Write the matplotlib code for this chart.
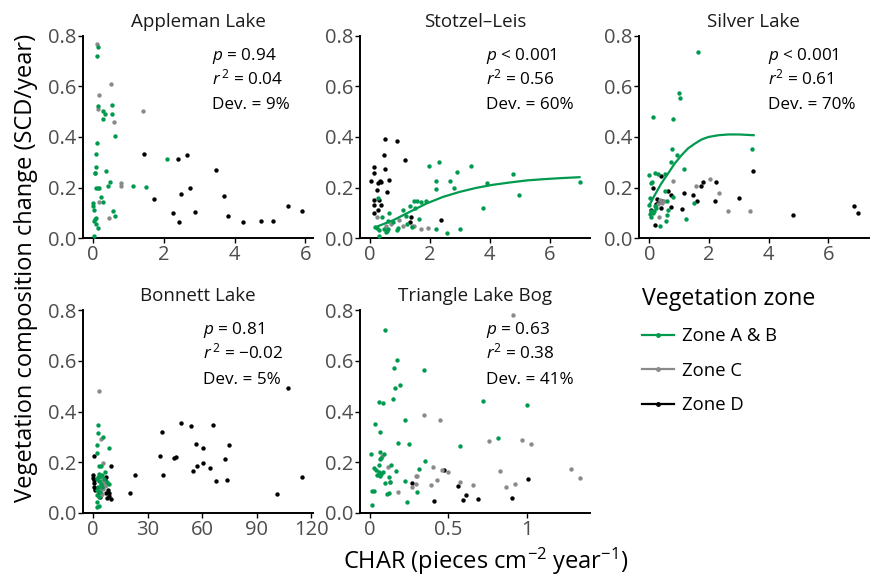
import matplotlib
matplotlib.use('Agg')
import matplotlib.pyplot as plt
from matplotlib.lines import Line2D

# ── Style ──
plt.rcParams['font.family'] = ['Open Sans', 'DejaVu Sans']
plt.rcParams['mathtext.fontset'] = 'custom'
plt.rcParams['mathtext.rm'] = 'Open Sans'
plt.rcParams['mathtext.it'] = 'Open Sans:italic'
plt.rcParams['mathtext.bf'] = 'Open Sans:bold'

GREEN = "#009a4e"
GREY = "#8a8a8a"
BLACK = "#000000"
TICK_GREY = "#4d4d4d"

# ── Appleman Lake ──
app_ab_x = [0.14, 0.10, 0.15, 0.27, 0.34, 0.53, 0.52, 0.28, 0.62, 0.12,
            0.07, 2.09, 0.08, 0.04, 0.05, 0.36, 0.47, 0.43, 0.07, 0.13,
            0.18, 1.12, 1.50, 0.22, 0.28, 0.01, 0.01, 0.03, 0.56, 0.61,
            0.02, 0.06, 0.09, 0.08, 0.14, 0.03]
app_ab_y = [0.754, 0.722, 0.523, 0.502, 0.489, 0.526, 0.489, 0.472, 0.403, 0.377,
            0.332, 0.312, 0.282, 0.256, 0.259, 0.264, 0.223, 0.208, 0.200, 0.200,
            0.200, 0.206, 0.202, 0.162, 0.142, 0.140, 0.127, 0.113, 0.109, 0.088,
            0.068, 0.075, 0.078, 0.055, 0.042, 0.008]
app_c_x = [0.10, 0.51, 0.16, 0.13, 1.41, 0.60, 0.78, 0.79, 0.16, 0.45]
app_c_y = [0.767, 0.609, 0.565, 0.510, 0.501, 0.459, 0.219, 0.208, 0.144, 0.079]
app_d_x = [1.44, 1.72, 2.39, 2.66, 2.27, 2.49, 2.74, 2.42, 2.87, 3.47,
           3.70, 3.82, 4.23, 4.74, 5.08, 5.51, 5.92]
app_d_y = [0.334, 0.153, 0.312, 0.328, 0.098, 0.173, 0.200, 0.062, 0.104, 0.269,
           0.167, 0.087, 0.063, 0.067, 0.067, 0.127, 0.107]

# ── Stotzel-Leis ──
sto_ab_x = [0.28, 0.64, 0.41, 0.17, 0.23, 0.31, 0.48, 0.61, 0.58, 0.76,
            0.29, 1.10, 0.89, 0.94, 1.21, 1.24, 0.59, 0.54, 1.42, 1.47,
            1.58, 1.71, 1.88, 1.52, 1.64, 1.97, 2.31, 3.37, 2.91, 4.77,
            2.20, 2.67, 3.91, 7.00, 2.22, 2.80, 4.98, 3.77, 2.22, 2.56,
            3.02, 1.33]
sto_ab_y = [0.158, 0.099, 0.082, 0.043, 0.042, 0.033, 0.036, 0.036, 0.028, 0.063,
            0.009, 0.113, 0.032, 0.042, 0.087, 0.055, 0.068, 0.026, 0.045, 0.145,
            0.145, 0.141, 0.145, 0.121, 0.075, 0.284, 0.302, 0.286, 0.260, 0.252,
            0.227, 0.227, 0.220, 0.223, 0.196, 0.200, 0.169, 0.120, 0.038, 0.019,
            0.038, 0.127]
sto_c_x = [0.22, 0.53, 0.98, 1.11, 1.39, 1.47, 1.72, 1.94, 0.70]
sto_c_y = [0.082, 0.047, 0.071, 0.047, 0.047, 0.049, 0.037, 0.040, 0.055]
sto_d_x = [0.50, 0.91, 1.18, 0.48, 0.13, 0.13, 0.49, 0.02, 0.28, 0.33,
           0.38, 0.64, 0.23, 0.57, 0.14, 0.29, 0.36, 0.14, 0.14, 0.27,
           1.38, 1.33, 2.36]
sto_d_y = [0.394, 0.384, 0.308, 0.329, 0.283, 0.257, 0.272, 0.224, 0.218, 0.226,
           0.222, 0.229, 0.190, 0.182, 0.149, 0.149, 0.133, 0.132, 0.100, 0.113,
           0.084, 0.062, 0.071]
sto_fit_x = [0.22, 0.78, 1.33, 1.89, 2.44, 3.00, 3.56, 4.11, 4.67, 5.22, 5.78, 6.33, 7.00]
sto_fit_y = [0.045, 0.071, 0.104, 0.137, 0.163, 0.183, 0.199, 0.211, 0.220, 0.228,
             0.233, 0.237, 0.241]

# ── Silver Lake ──
sil_ab_x = [1.63, 0.99, 1.03, 0.13, 0.78, 3.46, 0.76, 0.94, 0.74, 1.17,
            0.00, 0.18, 0.29, 0.53, 0.07, 0.10, 0.52, 0.79, 0.03, 0.60,
            1.49, 0.19, 0.00, 0.05, 0.10, 0.02, 0.12, 0.24, 0.60, 0.55,
            1.22, 0.35, 0.63, 0.06, 0.15]
sil_ab_y = [0.735, 0.575, 0.555, 0.478, 0.472, 0.352, 0.353, 0.328, 0.302, 0.272,
            0.250, 0.256, 0.252, 0.252, 0.220, 0.222, 0.187, 0.162, 0.159, 0.146,
            0.137, 0.127, 0.133, 0.108, 0.105, 0.097, 0.100, 0.120, 0.090, 0.067,
            0.075, 0.047, 0.113, 0.085, 0.108]
sil_c_x = [0.78, 1.56, 2.02, 2.33, 2.63, 3.39, 0.35, 0.42, 0.50, 0.34, 0.30]
sil_c_y = [0.227, 0.207, 0.232, 0.179, 0.107, 0.107, 0.150, 0.140, 0.145, 0.084, 0.135]
sil_d_x = [0.39, 0.11, 0.63, 0.74, 0.26, 0.44, 0.21, 0.73, 0.40, 0.07,
           1.08, 1.15, 1.48, 1.60, 1.72, 1.79, 2.25, 2.20, 3.01, 3.47,
           4.83, 6.85, 7.01, 0.18, 0.30]
sil_d_y = [0.245, 0.200, 0.187, 0.169, 0.153, 0.148, 0.136, 0.124, 0.120, 0.111,
           0.116, 0.177, 0.170, 0.148, 0.208, 0.221, 0.223, 0.146, 0.157, 0.264,
           0.092, 0.127, 0.100, 0.053, 0.140]
sil_fit_x = [0.00, 0.18, 0.40, 0.63, 0.85, 1.08, 1.30, 1.53, 1.75, 1.98, 2.32, 2.65, 2.99, 3.50]
sil_fit_y = [0.130, 0.170, 0.216, 0.256, 0.295, 0.328, 0.355, 0.374, 0.390, 0.400,
             0.407, 0.410, 0.410, 0.407]

# ── Bonnett Lake ──
bon_ab_x = [2.9, 2.7, 5.7, 2.2, 9.0, 2.2, 3.5, 4.4, 3.1, 4.0,
            4.9, 2.2, 3.5, 4.4, 2.7, 4.9, 2.4, 4.0, 2.4, 3.1,
            2.2, 3.5, 2.5, 2.6, 5.9, 8.6, 6.5, 7.5]
bon_ab_y = [0.346, 0.315, 0.298, 0.267, 0.257, 0.238, 0.183, 0.183, 0.153, 0.145,
            0.148, 0.134, 0.125, 0.115, 0.103, 0.103, 0.090, 0.082, 0.071, 0.063,
            0.042, 0.026, 0.024, 0.141, 0.132, 0.113, 0.160, 0.120]
bon_c_x = [3.5, 4.4, 5.8, 4.5, 5.2, 6.0, 4.0, 5.5, 6.5, 3.8, 5.0, 4.2, 4.6, 7.0]
bon_c_y = [0.480, 0.290, 0.197, 0.125, 0.115, 0.120, 0.100, 0.095, 0.105, 0.085,
           0.075, 0.140, 0.070, 0.110]
bon_d_x = [107.2, 115.1, 101.3, 48.3, 54.0, 65.7, 37.7, 36.8, 44.3, 45.5,
           38.4, 23.2, 20.3, 56.5, 60.2, 75.0, 60.4, 57.3, 55.2, 64.4,
           72.8, 67.5, 73.7, 10.1, 0.7, 0.3, 0.3, 0.7, 0.7, 0.7,
           1.0, 7.1, 6.8, 8.2, 8.6, 7.3, 9.9, 3.8, 1.3, 3.5,
           4.0, 9.1, 7.7]
bon_d_y = [0.493, 0.142, 0.075, 0.353, 0.342, 0.347, 0.320, 0.224, 0.218, 0.222,
           0.149, 0.150, 0.076, 0.270, 0.254, 0.268, 0.196, 0.183, 0.164, 0.175,
           0.212, 0.124, 0.129, 0.184, 0.226, 0.148, 0.139, 0.129, 0.116, 0.103,
           0.097, 0.141, 0.129, 0.090, 0.066, 0.077, 0.053, 0.103, 0.090, 0.076,
           0.063, 0.076, 0.059]

# ── Triangle Lake Bog ──
tri_ab_x = [0.096, 0.172, 0.153, 0.347, 0.162, 0.189, 0.147, 0.057, 0.085, 0.719,
            1.002, 0.223, 0.032, 0.066, 0.817, 0.181, 0.251, 0.574, 0.004, 0.064,
            0.087, 0.070, 0.062, 0.057, 0.349, 0.132, 0.028, 0.038, 0.055, 0.081,
            0.068, 0.043, 0.062, 0.313, 0.168, 0.123, 0.128, 0.094, 0.226, 0.106,
            0.123, 0.298, 0.015, 0.023, 0.238, 0.011]
tri_ab_y = [0.721, 0.603, 0.571, 0.566, 0.495, 0.503, 0.451, 0.436, 0.433, 0.441,
            0.426, 0.368, 0.350, 0.318, 0.297, 0.276, 0.271, 0.264, 0.233, 0.239,
            0.234, 0.218, 0.212, 0.189, 0.204, 0.188, 0.175, 0.168, 0.159, 0.159,
            0.154, 0.151, 0.145, 0.174, 0.163, 0.141, 0.122, 0.117, 0.125, 0.075,
            0.076, 0.082, 0.086, 0.084, 0.042, 0.029]
tri_c_x = [0.913, 0.345, 0.449, 0.970, 0.755, 1.023, 0.074, 0.115, 0.402, 0.460,
           0.496, 0.830, 1.283, 1.334, 0.574, 0.657, 0.430, 0.391, 0.294, 0.302,
           0.291, 0.266, 0.923, 0.864, 0.177, 0.125]
tri_c_y = [0.782, 0.388, 0.366, 0.287, 0.283, 0.271, 0.225, 0.182, 0.179, 0.167,
           0.162, 0.163, 0.174, 0.138, 0.122, 0.109, 0.129, 0.111, 0.146, 0.146,
           0.113, 0.103, 0.113, 0.103, 0.080, 0.120]
tri_d_x = [0.470, 0.268, 0.562, 0.611, 0.591, 0.689, 0.411, 0.902, 1.004]
tri_d_y = [0.168, 0.118, 0.105, 0.070, 0.050, 0.053, 0.046, 0.058, 0.134]

# ── Panel definitions ──
panels = [
    {"title": "Appleman Lake", "ab": (app_ab_x, app_ab_y), "c": (app_c_x, app_c_y),
     "d": (app_d_x, app_d_y), "fit": None, "xticks": [0, 2, 4, 6],
     "stats": ["$p$ = 0.94", "$r^{\\,2}$ = 0.04", "Dev. = 9%"], "tx": 0.56},
    {"title": "Stotzel\u2013Leis", "ab": (sto_ab_x, sto_ab_y), "c": (sto_c_x, sto_c_y),
     "d": (sto_d_x, sto_d_y), "fit": (sto_fit_x, sto_fit_y), "xticks": [0, 2, 4, 6],
     "stats": ["$p$ < 0.001", "$r^2$ = 0.56", "Dev. = 60%"], "tx": 0.548},
    {"title": "Silver Lake", "ab": (sil_ab_x, sil_ab_y), "c": (sil_c_x, sil_c_y),
     "d": (sil_d_x, sil_d_y), "fit": (sil_fit_x, sil_fit_y), "xticks": [0, 2, 4, 6],
     "stats": ["$p$ < 0.001", "$r^2$ = 0.61", "Dev. = 70%"], "tx": 0.56},
    {"title": "Bonnett Lake", "ab": (bon_ab_x, bon_ab_y), "c": (bon_c_x, bon_c_y),
     "d": (bon_d_x, bon_d_y), "fit": None, "xticks": [0, 30, 60, 90, 120],
     "stats": ["$p$ = 0.81", "$r^{\\,2}$ = \u22120.02", "Dev. = 5%"], "tx": 0.523},
    {"title": "Triangle Lake Bog", "ab": (tri_ab_x, tri_ab_y), "c": (tri_c_x, tri_c_y),
     "d": (tri_d_x, tri_d_y), "fit": None, "xticks": [0, 0.5, 1],
     "stats": ["$p$ = 0.63", "$r^2$ = 0.38", "Dev. = 41%"], "tx": 0.546},
]

# axes boxes in figure fractions (left, bottom, width, height)
col_left = [0.095, 0.412, 0.731]
row_bottom = [0.588, 0.113]
W, H = 0.263, 0.350
boxes = [(col_left[0], row_bottom[0]), (col_left[1], row_bottom[0]), (col_left[2], row_bottom[0]),
         (col_left[0], row_bottom[1]), (col_left[1], row_bottom[1])]

fig = plt.figure(figsize=(8.74, 5.78), dpi=100)

for p, (l, b) in zip(panels, boxes):
    ax = fig.add_axes([l, b, W, H])
    ax.scatter(*p["d"], s=10, color=BLACK, linewidths=0, zorder=3)
    ax.scatter(*p["c"], s=10, color=GREY, linewidths=0, zorder=3)
    ax.scatter(*p["ab"], s=10, color=GREEN, linewidths=0, zorder=3)
    if p["fit"] is not None:
        ax.plot(*p["fit"], color=GREEN, lw=1.6, zorder=4)

    ax.set_ylim(0, 0.8)
    ax.set_yticks([0, 0.2, 0.4, 0.6, 0.8])
    ax.set_yticklabels(["0.0", "0.2", "0.4", "0.6", "0.8"])
    ax.set_xticks(p["xticks"])
    ax.set_xticklabels([f"{t:g}" for t in p["xticks"]])
    ax.margins(x=0.05)

    for side in ["top", "right"]:
        ax.spines[side].set_visible(False)
    for side in ["left", "bottom"]:
        ax.spines[side].set_linewidth(1.4)
    ax.tick_params(length=3.5, width=1.0, color="black", labelsize=14.5,
                   labelcolor=TICK_GREY, pad=1.5)
    ax.set_title(p["title"], fontsize=13.5, pad=6.5, color="#1a1a1a")

    for txt, yy in zip(p["stats"], [0.883, 0.761, 0.637]):
        ax.text(p["tx"], yy, txt, transform=ax.transAxes, ha="left", va="baseline",
                fontsize=12.3, color="black")

fig.text(0.03, 1 - 268 / 578, "Vegetation composition change (SCD/year)",
         rotation=90, ha="center", va="center", fontsize=17)
fig.text(0.556, 0.028, "CHAR (pieces cm$^{-2}$ year$^{-1}$)",
         ha="center", va="center", fontsize=17)

# ── Legend ──
handles = [Line2D([0], [0], color=GREEN, lw=1.6, marker="o", markersize=2.5),
           Line2D([0], [0], color=GREY, lw=1.6, marker="o", markersize=2.5),
           Line2D([0], [0], color=BLACK, lw=1.6, marker="o", markersize=2.5)]
fig.legend(handles, ["Zone A & B", "Zone C", "Zone D"], title="Vegetation zone",
           loc="upper left", bbox_to_anchor=(0.716, 0.533), frameon=False,
           fontsize=13.3, title_fontsize=16.7, handlelength=1.7, handletextpad=0.45,
           labelspacing=0.9, alignment="left")

fig.savefig("out.png", dpi=100)
